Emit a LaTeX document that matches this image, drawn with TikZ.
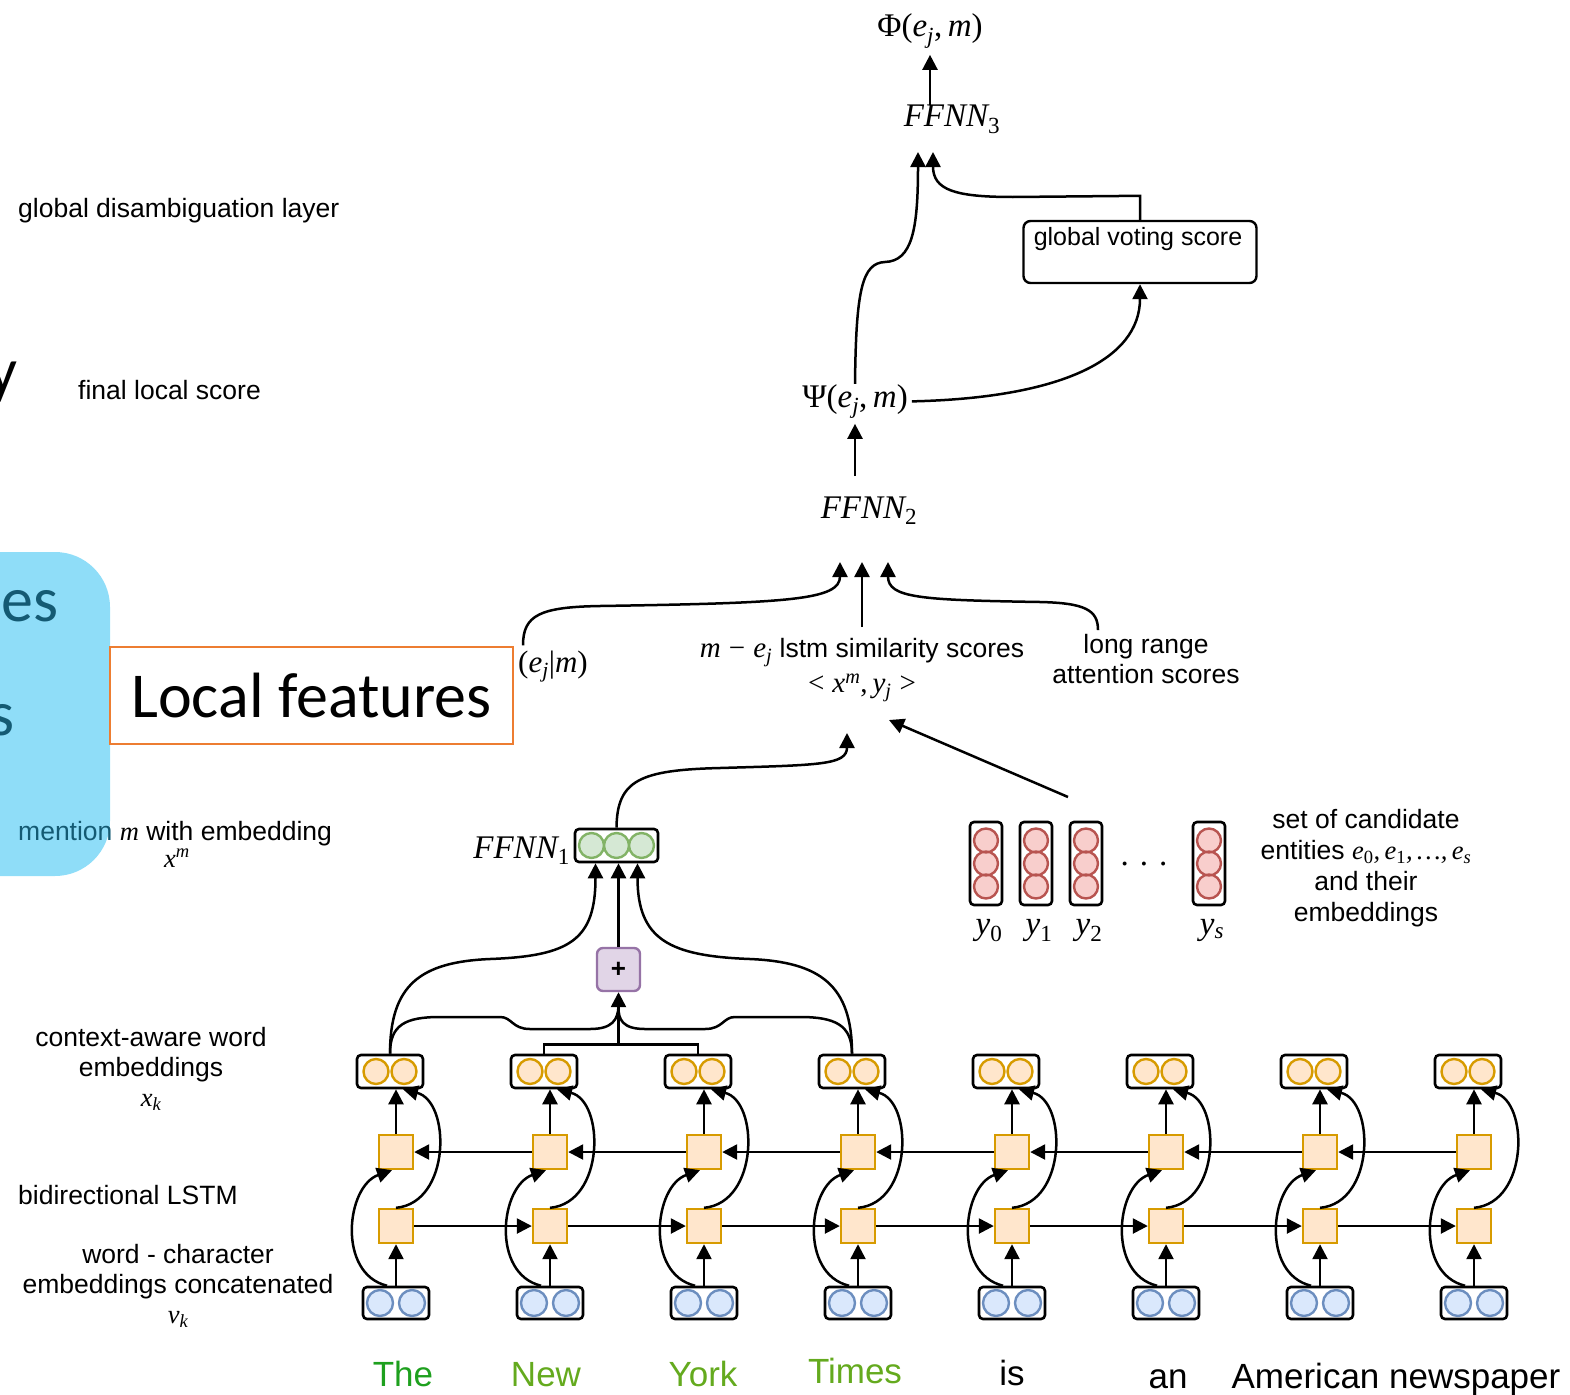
\documentclass[tikz,border=0pt]{standalone}
\usepackage{fontspec}
\setmainfont{Liberation Sans}
\newfontfamily\carlito{Carlito}
\newfontfamily\tms{Liberation Serif}
\newcommand{\vi}[1]{{\tms\itshape #1}}
\newcommand{\vsub}[1]{\textsubscript{#1}}
\newcommand{\vsup}[1]{\textsuperscript{#1}}
\usepackage{tikz}
\usetikzlibrary{arrows.meta, positioning, calc}

\definecolor{embFill}{RGB}{218,232,252}
\definecolor{embLine}{RGB}{108,142,191}
\definecolor{lstmFill}{RGB}{255,230,204}
\definecolor{lstmLine}{RGB}{215,155,0}
\definecolor{ffnFill}{RGB}{213,232,212}
\definecolor{ffnLine}{RGB}{130,179,102}
\definecolor{entFill}{RGB}{248,206,204}
\definecolor{entLine}{RGB}{184,84,80}
\definecolor{sumFill}{RGB}{225,213,231}
\definecolor{sumLine}{RGB}{150,115,166}
\definecolor{slideCyan}{RGB}{143,221,248}
\definecolor{slideTeal}{RGB}{20,90,115}
\definecolor{slideOrange}{RGB}{237,125,49}
\definecolor{wordGreen}{RGB}{30,160,30}
\definecolor{wordOlive}{RGB}{100,170,30}

\begin{document}
\begin{tikzpicture}[x=1pt, y=-1pt,
  every node/.style={inner sep=0pt, font=\fontsize{26.5}{30}\selectfont},
  arr/.style={-{Triangle[length=15pt, width=15pt]}, line width=2.5pt},
  wire/.style={line width=2.5pt},
  vecbox/.style={draw, line width=2.6pt, rounded corners=4pt},
  xbox/.style={vecbox, minimum width=66pt, minimum height=33pt},
  vbox/.style={vecbox, minimum width=66pt, minimum height=32pt},
  ybox/.style={vecbox, minimum width=32pt, minimum height=83pt},
  cell/.style={draw=lstmLine, fill=lstmFill, line width=2.4pt, minimum size=34pt},
  xdot/.style={draw=lstmLine, fill=lstmFill, line width=2.4pt},
  vdot/.style={draw=embLine, fill=embFill, line width=2.4pt},
  ydot/.style={draw=entLine, fill=entFill, line width=2.4pt},
  fdot/.style={draw=ffnLine, fill=ffnFill, line width=2.4pt},
  mlab/.style={font=\tms\fontsize{33}{38}\selectfont},
  word/.style={anchor=base, font=\fontsize{35}{40}\selectfont},
  slide/.style={font=\carlito\fontsize{64}{70}\selectfont}]

  \useasboundingbox (0,0) rectangle (1570,1394);

  % leftovers of the slide
  \fill[slideCyan, rounded corners=55pt] (-60,552) rectangle (110,876);
  \node[slide, text=slideTeal, anchor=base east] (res) at (59,621) {es};
  \node[slide, text=slideTeal, anchor=base east] (ress) at (15,735) {s};
  \node[slide, anchor=base east] (rey) at (18,392) {y};
  \node[slide, draw=slideOrange, line width=2pt, minimum width=403pt, minimum height=97pt] (loc) at (311.5,695.5) {Local features};

  % layer names
  \node[anchor=base west] (glob) at (18,217) {global disambiguation layer};
  \node[anchor=base west] (fin) at (78,399) {final local score};
  \node[anchor=base west] (men) at (18,840) {\textcolor{slideTeal}{mention} \vi{m} with embedding};
  \node[anchor=base] (xm) at (177,867) {\vi{x\vsup{m}}};
  \node[align=center] (ctx) at (151,1069) {context-aware word\\embeddings\\\vi{x\vsub{k}}};
  \node[anchor=base west] (bid) at (18,1204) {bidirectional LSTM};
  \node[align=center] (wch) at (178,1286) {word - character\\embeddings concatenated\\\vi{v\vsub{k}}};

  % sentence
  \node[word, text=wordGreen] (w1) at (403,1386) {The};
  \node[word, text=wordOlive] (w2) at (546,1386) {New};
  \node[word, text=wordOlive] (w3) at (703,1386) {York};
  \node[word, text=wordOlive] (w4) at (855,1383) {Times};
  \node[word] (w5) at (1012,1385) {is};
  \node[word] (w6) at (1168,1388) {an};
  \node[word] (w7) at (1396,1388) {American newspaper};

  % bidirectional LSTM columns
  \foreach \i in {1,...,8} {
    \pgfmathsetmacro\cx{396+154*(\i-1)}
    \node[vbox] (v\i) at (\cx,1303) {};
    \node[cell] (f\i) at (\cx,1226) {};
    \node[cell] (b\i) at (\cx,1152) {};
    \node[xbox] (x\i) at (\cx-6,1071.5) {};
    \draw[vdot] ([xshift=-16pt]v\i.center) circle (13pt) ([xshift=16pt]v\i.center) circle (13pt);
    \draw[xdot] ([xshift=-14pt]x\i.center) circle (12.5pt) ([xshift=14pt]x\i.center) circle (12.5pt);
    \draw[arr] (v\i.north) -- (f\i.south);
    \draw[arr] (b\i.north) -- (b\i.north |- x\i.south);
    \draw[arr] ([xshift=-9pt]v\i.north) .. controls +(-50,-12) and +(-46,16) .. ([xshift=-4pt]b\i.south);
    \draw[arr] (f\i.north) .. controls +(55,-5) and +(48,12) .. ([xshift=13pt]x\i.south);
  }
  \foreach \i [count=\j from 2] in {1,...,7} {
    \draw[arr] (f\i) -- (f\j);
    \draw[arr] (b\j) -- (b\i);
  }

  % mention representation
  \node[draw=sumLine, fill=sumFill, line width=2.4pt, rounded corners=6pt, minimum size=43pt, font=\fontsize{26}{30}\selectfont\bfseries] (plus) at (618.5,969.5) {+};
  \node[vecbox, minimum width=83pt, minimum height=33pt] (ff1) at (616.5,845.5) {};
  \draw[fdot] ([xshift=-25pt]ff1.center) circle (12.5pt) (ff1.center) circle (12.5pt) ([xshift=25pt]ff1.center) circle (12.5pt);
  \node[mlab, anchor=base east] (ffl) at (570,858) {\itshape FFNN\vsub{\upshape 1}};

  \draw[wire] (x2.north) -- ++(0,-9) coordinate (brk) -| (x3.north);
  \draw[arr] (brk -| plus.south) -- (plus.south);
  \draw[wire] (x1.north) .. controls (390,1025) and (405,1017) .. (440,1017) -- (500,1017)
    .. controls (512,1017) and (512,1029) .. (530,1029) -- (590,1029)
    .. controls (612,1029) and (618,1020) .. ([yshift=-14pt]plus.south);
  \draw[wire] (x4.north) .. controls (852,1025) and (835,1017) .. (800,1017) -- (735,1017)
    .. controls (723,1017) and (723,1029) .. (705,1029) -- (645,1029)
    .. controls (623,1029) and (618,1020) .. ([yshift=-14pt]plus.south);
  \draw[arr] (x1.north) .. controls (390,985) and (420,962) .. (490,959)
    .. controls (570,956) and (595.5,940) .. ([xshift=-21pt]ff1.south);
  \draw[arr] (x4.north) .. controls (852,985) and (820,962) .. (750,959)
    .. controls (670,956) and (637.5,940) .. ([xshift=21pt]ff1.south);
  \draw[arr] (plus.north) -- (plus.north |- ff1.south);

  % candidate entities
  \foreach \n/\cx/\sub in {0/986/\upshape 0, 1/1036/\upshape 1, 2/1086/\upshape 2, s/1209/s} {
    \node[ybox] (c\n) at (\cx,863.5) {};
    \draw[ydot] ([yshift=23pt]c\n.center) circle (12pt) (c\n.center) circle (12pt) ([yshift=-23pt]c\n.center) circle (12pt);
    \node[mlab, below=13pt of c\n, xshift=3pt] (yl\n) {\itshape y\vsub{\sub}};
  }
  \node[mlab, anchor=base] (dots) at (1144,865) {. . .};
  \node[align=center, font=\fontsize{26.5}{31}\selectfont] (cset) at (1366,868) {set of candidate\\entities \vi{e\vsub{\upshape 0},\,e\vsub{\upshape 1},\,\ldots,\,e\vsub{s}}\\and their\\embeddings};

  % local scores
  \node[align=center, font=\fontsize{26.5}{35}\selectfont] (sim) at (862,670) {{\fontsize{29}{35}\selectfont\vi{m} {\tms −} \vi{e\vsub{j}}} lstm similarity scores\\{\fontsize{29}{35}\selectfont\tms <\;\vi{x\vsup{m}},\,\vi{y\vsub{j}}\;>}};
  \node[anchor=base, font=\tms\fontsize{31}{34}\selectfont] (ejm) at (553,672) {(\vi{e\vsub{j}}|\vi{m})};
  \node[align=center] (lra) at (1146,659) {long range\\attention scores};
  \coordinate (simin) at (847,733);
  \coordinate (candin) at (1068,797);
  \coordinate (simin2) at (889,720);
  \draw[arr] (ff1.north) .. controls (617,780) and (640,770) .. (720,768)
    .. controls (820,765) and (847,765) .. (simin);
  \draw[arr] (candin) -- (simin2);

  \node[mlab, anchor=base] (ffn2) at (869,518) {\itshape FFNN\vsub{\upshape 2}};
  \coordinate (in2l) at (840,562);
  \coordinate (in2m) at (862,562);
  \coordinate (in2r) at (888,562);
  \draw[arr] ([xshift=-30pt, yshift=5pt]ejm.north) .. controls (523,615) and (540,607) .. (600,606)
    .. controls (790,603) and (840,600) .. (in2l);
  \draw[arr] ([yshift=11pt]sim.north) -- (in2m);
  \draw[arr] ([xshift=-48pt, yshift=4pt]lra.north) .. controls (1098,610) and (1085,603) .. (1040,602)
    .. controls (920,600) and (888,598) .. (in2r);

  % global part
  \node[mlab, anchor=base] (psi) at (855,407) {Ψ(\vi{e\vsub{j}},\,\vi{m})};
  \draw[arr, shorten <=20pt, shorten >=5pt] (psi.south |- ffn2.north) -- (psi.south);
  \node[draw, line width=2.4pt, rounded corners=7pt, minimum width=233pt, minimum height=62pt] (gvs) at (1140,252) {};
  \node[anchor=base, font=\fontsize{25}{30}\selectfont] (gvst) at (1138,245) {global voting score};
  \draw[arr] ([xshift=4pt]psi.east) .. controls (1060,398) and (1140,360) .. (gvs.south);

  \node[mlab, anchor=base] (ffn3) at (952,127) {\itshape FFNN\vsub{\upshape 3}};
  \node[mlab, anchor=base] (phi) at (930,37) {Φ(\vi{e\vsub{j}},\,\vi{m})};
  \coordinate (in3l) at (918,152);
  \coordinate (in3r) at (933,152);
  \draw[arr] (psi.north) .. controls (856,290) and (862,263) .. (885,262)
    .. controls (912,261) and (918,230) .. (in3l);
  \draw[arr] (gvs.north) -- ++(0,-24) -- (1013,197) .. controls (955,197) and (933,190) .. (in3r);
  \draw[arr, shorten >=6pt] (phi.south |- ffn3.north) -- (phi.south);
\end{tikzpicture}
\end{document}
